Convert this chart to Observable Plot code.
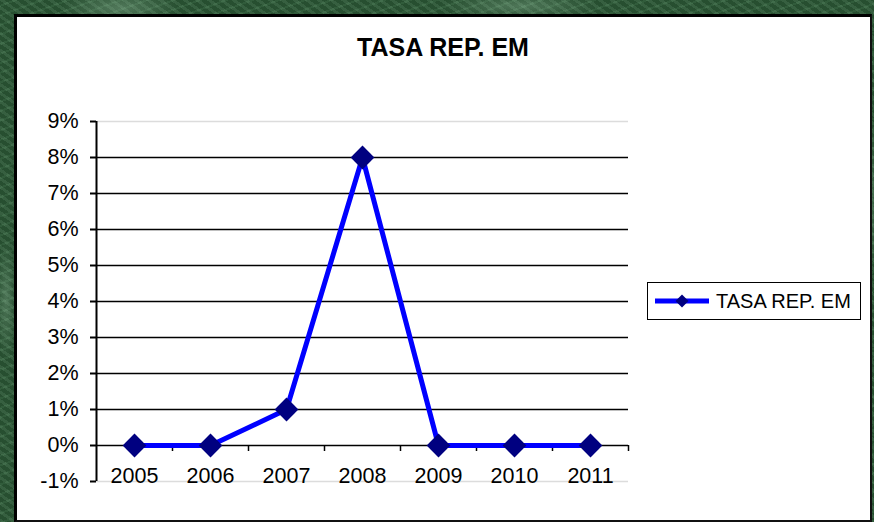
<!DOCTYPE html>
<html>
<head>
<meta charset="utf-8">
<script src="https://cdn.jsdelivr.net/npm/d3@7"></script>
<script src="https://cdn.jsdelivr.net/npm/@observablehq/plot@0.6"></script>
<style>
  html, body { margin: 0; padding: 0; }
  body { width: 874px; height: 522px; overflow: hidden; font-family: "Liberation Sans", Arial, sans-serif; }
  #bg {
    position: absolute; left: 0; top: 0; width: 874px; height: 522px;
    background:
      radial-gradient(ellipse 60px 20px at 120px 8px, rgba(160,200,170,0.35), transparent),
      radial-gradient(ellipse 80px 14px at 520px 6px, rgba(170,210,180,0.3), transparent),
      radial-gradient(ellipse 10px 60px at 6px 300px, rgba(160,200,170,0.3), transparent),
      radial-gradient(ellipse 8px 80px at 870px 200px, rgba(160,200,170,0.3), transparent),
      repeating-linear-gradient(35deg, rgba(255,255,255,0.06) 0 3px, rgba(0,0,0,0.08) 3px 7px),
      repeating-linear-gradient(-20deg, rgba(120,170,130,0.12) 0 2px, rgba(0,0,0,0.05) 2px 9px),
      #2c5a37;
  }
  #panel {
    position: absolute; left: 14px; top: 14px; width: 853px; height: 503px;
    background: #fff;
    border-left: 3px solid #000; border-top: 3px solid #000;
    border-right: 2px solid #111; border-bottom: 2px solid #111;
  }
  #title {
    position: absolute; left: 0; width: 886px; top: 33px; text-align: center;
    font-weight: bold; font-size: 25px; color: #000; white-space: nowrap;
  }
  #chart { position: absolute; left: 0; top: 0; }
  #legend {
    position: absolute; left: 647px; top: 282px; width: 214px; height: 38px;
    border: 1px solid #000; background: #fff; box-sizing: border-box;
    display: flex; align-items: center; font-size: 20px; color: #000; white-space: nowrap;
  }
  #legend svg { margin-left: 7px; margin-right: 7px; }
</style>
</head>
<body>
<div id="bg"></div>
<div id="panel"></div>
<div id="title">TASA REP. EM</div>
<div id="chart"></div>
<div id="legend"><svg width="54" height="16"><line x1="0" y1="8" x2="54" y2="8" stroke="#0000ff" stroke-width="5"/><path d="M27,1.5 L33.5,8 L27,14.5 L20.5,8 Z" fill="#000080"/></svg><span>TASA REP. EM</span></div>
<script>
const years = [2005, 2006, 2007, 2008, 2009, 2010, 2011];
const values = [0, 0, 1, 8, 0, 0, 0];
const yTicks = [-1, 0, 1, 2, 3, 4, 5, 6, 7, 8, 9];
const seriesName = "TASA REP. EM";

const data = years.map((y, i) => ({year: y, value: values[i]}));
const boundaries = d3.range(years[0] - 0.5, years[years.length - 1] + 1, 1);
const innerBoundaries = boundaries.slice(1);
const blackGrid = yTicks.filter(t => t >= 0 && t < d3.max(yTicks));
const greyGrid = [d3.min(yTicks), d3.max(yTicks)];

const chart = Plot.plot({
  width: 874,
  height: 522,
  marginLeft: 96,
  marginRight: 246,
  marginTop: 121,
  marginBottom: 41,
  style: {background: "transparent", fontFamily: "'Liberation Sans', Arial, sans-serif", color: "#000"},
  x: {type: "linear", domain: [boundaries[0], boundaries[boundaries.length - 1]], axis: null},
  y: {domain: [d3.min(yTicks), d3.max(yTicks)], axis: null},
  marks: [
    Plot.ruleY(greyGrid, {stroke: "#dcdcdc", strokeWidth: 1.5}),
    Plot.ruleY(blackGrid, {stroke: "#000", strokeWidth: 1.5}),
    Plot.ruleX(innerBoundaries, {y1: 0, y2: 0, insetBottom: -6, stroke: "#000", strokeWidth: 1.5}),
    Plot.ruleY(yTicks, {x1: boundaries[0], x2: boundaries[0], insetLeft: -6, stroke: "#000", strokeWidth: 2}),
    Plot.ruleX([boundaries[0]], {stroke: "#000", strokeWidth: 2}),
    Plot.text(yTicks, {x: boundaries[0], y: d => d, text: d => d + "%", textAnchor: "end", dx: -18, fontSize: 21.5, fill: "#000"}),
    Plot.text(years, {x: d => d, text: d => String(d), frameAnchor: "bottom", lineAnchor: "middle", dy: -5, fontSize: 21.5, fill: "#000"}),
    Plot.line(data, {x: "year", y: "value", stroke: "#0000ff", strokeWidth: 5}),
    Plot.dot(data, {x: "year", y: "value", symbol: "diamond2", r: 10.7, fill: "#000080", stroke: "none"})
  ]
});
document.getElementById("chart").appendChild(chart);
</script>
</body>
</html>
